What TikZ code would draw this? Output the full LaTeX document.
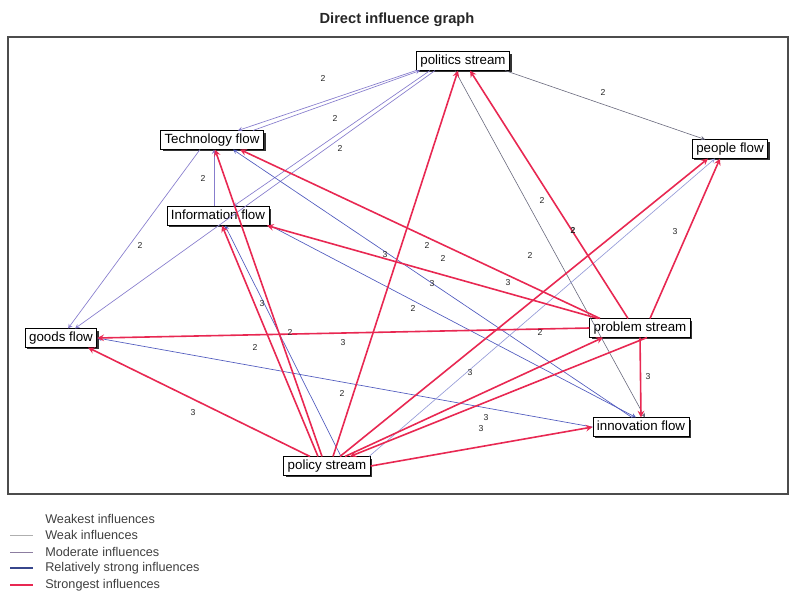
\documentclass[tikz,border=0pt]{standalone}
\usepackage{fontspec}
\setmainfont{Liberation Sans}
\usepackage{tikz}
\usetikzlibrary{shadows}

\definecolor{strongred}{RGB}{232,40,82}
\definecolor{relblue}{RGB}{80,90,190}
\definecolor{modpurple}{RGB}{135,125,205}
\definecolor{weakgray}{RGB}{105,105,125}
\definecolor{legweak}{RGB}{175,175,175}
\definecolor{legmod}{RGB}{140,125,160}
\definecolor{legrel}{RGB}{55,70,140}

\begin{document}
\begin{tikzpicture}[x=0.75pt,y=0.75pt,yscale=-1,xscale=1,
    flowbox/.style={draw=black, fill=white, line width=0.6pt, inner xsep=3pt, inner ysep=2pt,
        text height=7.5pt, text depth=2.2pt, font=\fontsize{10}{12}\selectfont,
        drop shadow={shadow xshift=1.6pt, shadow yshift=-1.6pt, fill=black!80, opacity=1}},
    wlabel/.style={font=\fontsize{6.5}{7}\selectfont, text=black!85, inner sep=0pt},
    strongest/.style={draw=strongred, line width=1.2pt, -stealth},
    relstrong/.style={draw=relblue, line width=0.5pt, -stealth},
    moderate/.style={draw=modpurple, line width=0.5pt, -stealth},
    weak/.style={draw=weakgray, line width=0.45pt, -stealth},
    legtext/.style={anchor=west, inner sep=0pt, text=black!75, font=\fontsize{9.5}{11}\selectfont}]
        \useasboundingbox (0,0) rectangle (791,594);

        % Title
        \node [font=\bfseries\fontsize{11}{13}\selectfont, text=black!85] (ttl) at (397,20) {Direct influence graph};
        %Shape: Rectangle (frame)
        \draw [color=black!70, line width=0.8pt] (8,37) rectangle (788,494);

        % Text Node
        \node [flowbox] (pol) at (463,61) {politics stream};
        % Text Node
        \node [flowbox] (tech) at (212,140) {Technology flow};
        % Text Node
        \node [flowbox] (info) at (218,216) {Information flow};
        % Text Node
        \node [flowbox] (ppl) at (730,149) {people flow};
        % Text Node
        \node [flowbox] (goods) at (61,338) {goods flow};
        % Text Node
        \node [flowbox] (prob) at (640,328) {problem stream};
        % Text Node
        \node [flowbox] (inno) at (641,427) {innovation flow};
        % Text Node
        \node [flowbox] (poli) at (327,466) {policy stream};

        %Straight Lines (weak and moderate)
        \draw [moderate] (pol.south west) -- ([xshift=19.5pt]tech.north);
        \draw [moderate] ([xshift=30.75pt]tech.north) -- ([xshift=-32.25pt]pol.south);
        \draw [moderate] ([xshift=-24.75pt]pol.south) -- ([xshift=11.25pt]info.north);
        \draw [moderate] ([xshift=-21pt]pol.south) -- ([xshift=10.5pt]goods.north);
        \draw [moderate] ([xshift=-9pt]tech.south) -- ([xshift=5.25pt]goods.north);
        \draw [moderate] ([xshift=-3pt]info.north) -- ([xshift=1.5pt]tech.south);
        \draw [weak] ([xshift=31.5pt]pol.south) -- ([xshift=-18.75pt]ppl.north);
        \draw [weak] ([xshift=-6pt]pol.south) -- ([xshift=3pt]inno.north);

        %Straight Lines (relatively strong)
        \draw [relstrong] (inno.west) -- (goods.east);
        \draw [relstrong] ([xshift=-6.75pt]inno.north) -- ([xshift=15.75pt]tech.south);
        \draw [relstrong] ([xshift=39pt]info.south) -- ([xshift=-3.75pt]inno.north);
        \draw [relstrong] ([xshift=10.5pt]poli.north) -- ([xshift=5.25pt]info.south);
        \draw [relstrong, draw=relblue!60] ([xshift=31.5pt]poli.north) -- ([xshift=-11.25pt]ppl.south);

        %Straight Lines (strongest)
        \draw [strongest] ([xshift=4.5pt]poli.north) -- ([xshift=-3.75pt]pol.south);
        \draw [strongest] ([xshift=-3.75pt]poli.north) -- ([xshift=2.25pt]tech.south);
        \draw [strongest] ([xshift=-6.75pt]poli.north) -- ([xshift=3pt]info.south);
        \draw [strongest] ([xshift=-12.75pt]poli.north) -- ([xshift=20.25pt]goods.south);
        \draw [strongest] ([xshift=9.75pt]poli.north) -- ([xshift=-16.5pt]ppl.south);
        \draw [strongest] ([xshift=13.5pt]poli.north) -- ([xshift=-27.75pt]prob.south);
        \draw [strongest] ([xshift=5.25pt]prob.south) -- ([xshift=17.25pt]poli.north);
        \draw [strongest] (poli.east) -- (inno.west);
        \draw [strongest] ([xshift=-9pt]prob.north) -- ([xshift=5.25pt]pol.south);
        \draw [strongest] ([xshift=-30pt]prob.north) -- ([xshift=21pt]tech.south);
        \draw [strongest] ([xshift=-31.5pt]prob.north) -- ([xshift=36.75pt]info.south);
        \draw [strongest] (prob.west) -- (goods.east);
        \draw [strongest] (prob.south) -- (inno.north);
        \draw [strongest] ([xshift=7.5pt]prob.north) -- ([xshift=-7.5pt]ppl.south);

        % Text Node (weights)
        \node [wlabel] (w1) at (323,78) {2};
        \node [wlabel] (w2) at (335,118) {2};
        \node [wlabel] (w3) at (340,148) {2};
        \node [wlabel] (w4) at (203,178) {2};
        \node [wlabel] (w5) at (140,245) {2};
        \node [wlabel] (w6) at (603,92) {2};
        \node [wlabel] (w7) at (542,200) {2};
        \node [wlabel, font=\bfseries\fontsize{6.5}{7}\selectfont] (w8) at (573,230) {2};
        \node [wlabel] (w9) at (675,232) {3};
        \node [wlabel] (w10) at (385,255) {3};
        \node [wlabel] (w11) at (427,245) {2};
        \node [wlabel] (w12) at (443,258) {2};
        \node [wlabel] (w13) at (432,284) {3};
        \node [wlabel] (w14) at (413,308) {2};
        \node [wlabel] (w15) at (530,255) {2};
        \node [wlabel] (w16) at (508,283) {3};
        \node [wlabel] (w17) at (262,304) {3};
        \node [wlabel] (w18) at (290,332) {2};
        \node [wlabel] (w19) at (255,347) {2};
        \node [wlabel] (w20) at (343,343) {3};
        \node [wlabel] (w21) at (540,332) {2};
        \node [wlabel] (w22) at (648,377) {3};
        \node [wlabel] (w23) at (470,373) {3};
        \node [wlabel] (w24) at (342,393) {2};
        \node [wlabel] (w25) at (193,413) {3};
        \node [wlabel] (w26) at (486,418) {3};
        \node [wlabel] (w27) at (481,429) {3};

        % Legend
        \node [legtext] (lg1) at (45,519) {Weakest influences};
        \draw [color=legweak, line width=0.6pt] (10,535) -- (33,535);
        \node [legtext] (lg2) at (45,535) {Weak influences};
        \draw [color=legmod, line width=0.7pt] (10,552) -- (33,552);
        \node [legtext] (lg3) at (45,552) {Moderate influences};
        \draw [color=legrel, line width=1.1pt] (10,568) -- (33,568);
        \node [legtext] (lg4) at (45,568) {Relatively strong influences};
        \draw [color=strongred, line width=1.3pt] (10,585) -- (33,585);
        \node [legtext] (lg5) at (45,585) {Strongest influences};

    \end{tikzpicture}
\end{document}
